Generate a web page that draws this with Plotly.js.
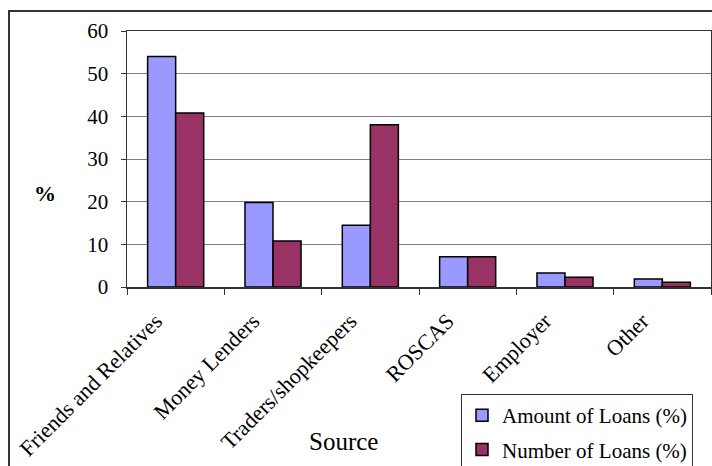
<!DOCTYPE html>
<html>
<head>
<meta charset="utf-8">
<script src="https://cdn.plot.ly/plotly-3.0.1.min.js"></script>
<style>html,body{margin:0;padding:0;background:#fff;}#chart{width:712px;height:466px;}</style>
</head>
<body>
<div id="chart"></div>
<script>
const categories = ["Friends and Relatives", "Money Lenders", "Traders/shopkeepers", "ROSCAS", "Employer", "Other"];
const amountOfLoans = [54, 19.8, 14.5, 7.1, 3.3, 1.9];
const numberOfLoans = [40.8, 10.8, 38.0, 7.1, 2.3, 1.1];
const yTicks = [0, 10, 20, 30, 40, 50, 60];

const font = "Liberation Serif, Times New Roman, serif";

const traces = [
  {type: "bar", name: "Amount of Loans (%)", x: categories, y: amountOfLoans,
   legendgroup: "a",
   marker: {color: "#9999FF", line: {color: "#000", width: 1.5}}},
  {type: "bar", name: "Number of Loans (%)", x: categories, y: numberOfLoans,
   legendgroup: "b",
   marker: {color: "#993366", line: {color: "#000", width: 1.5}}}
];

const layout = {
  width: 712, height: 466,
  margin: {l: 127, r: 1, t: 31, b: 179, autoexpand: false},
  paper_bgcolor: "#fff", plot_bgcolor: "#fff",
  font: {family: font, color: "#000", size: 20},
  barmode: "group", bargap: 0.424, bargroupgap: 0,
  showlegend: true,
  legend: {
    x: (461 - 127) / 584, y: (287 - 394) / 256, xanchor: "left", yanchor: "top",
    bordercolor: "#333", borderwidth: 1, bgcolor: "#fff",
    font: {family: font, size: 21, color: "#000"},
    traceorder: "grouped", tracegroupgap: 4
  },
  xaxis: {
    type: "category", tickangle: -45, ticks: "outside", tickson: "boundaries",
    ticklen: 6, tickcolor: "#333", showline: true, linecolor: "#333", linewidth: 1.5,
    mirror: true, showgrid: false, automargin: false, tickfont: {family: font, size: 22},
    ticklabelshift: -20, ticklabelstandoff: 11
  },
  yaxis: {
    range: [0, 60], tickvals: yTicks, ticks: "outside", ticklen: 5, tickcolor: "#333",
    showline: true, linecolor: "#333", linewidth: 1.5, mirror: true, automargin: false,
    showgrid: true, gridcolor: "#808080", gridwidth: 1, zeroline: false,
    ticklabelstandoff: 8, tickfont: {family: font, size: 21}
  },
  annotations: [
    {text: "<b>%</b>", xref: "paper", yref: "paper", x: (45 - 127) / 584, y: (287 - 193) / 256,
     showarrow: false, font: {family: font, size: 22}, xanchor: "center", yanchor: "middle"},
    {text: "Source", xref: "paper", yref: "paper", x: (343 - 127) / 584, y: (287 - 441) / 256,
     showarrow: false, font: {family: font, size: 25}, xanchor: "center", yanchor: "middle"}
  ],
  shapes: [
    {type: "rect", xref: "paper", yref: "paper", x0: (9 - 127) / 584, x1: 1.1,
     y0: -1.0, y1: (287 - 11) / 256, line: {color: "#333", width: 2}, fillcolor: "rgba(0,0,0,0)", layer: "below"}
  ]
};

Plotly.newPlot("chart", traces, layout, {displayModeBar: false, staticPlot: true});
</script>
</body>
</html>
